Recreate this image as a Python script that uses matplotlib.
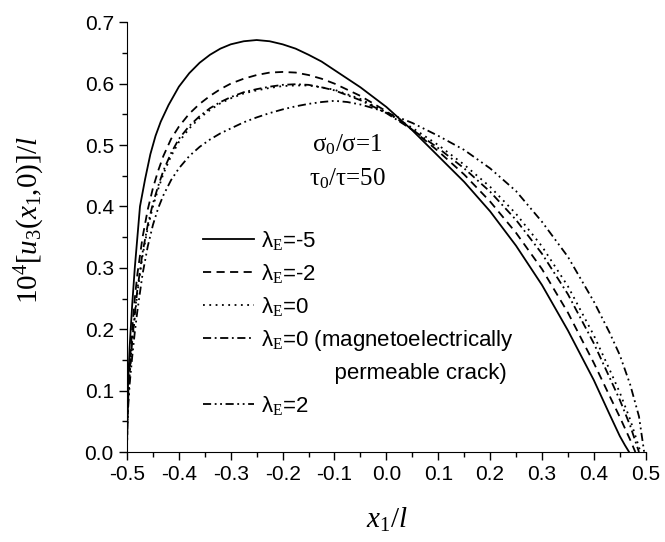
import matplotlib
matplotlib.use("Agg")
import matplotlib.pyplot as plt
from matplotlib.lines import Line2D
from matplotlib.ticker import MultipleLocator, FormatStrFormatter

plt.rcParams['font.family'] = ['Liberation Sans', 'DejaVu Sans']
plt.rcParams['mathtext.fontset'] = 'custom'
plt.rcParams['mathtext.rm'] = 'Liberation Serif'
plt.rcParams['mathtext.it'] = 'Liberation Serif:italic'
plt.rcParams['axes.unicode_minus'] = False

# lambda_E = -5 (solid)
x_m5 = [-0.5, -0.4995, -0.498, -0.495, -0.49, -0.485, -0.475, -0.465, -0.455, -0.445, -0.435, -0.42, -0.4,
        -0.38, -0.36, -0.34, -0.32, -0.3, -0.275, -0.25, -0.225, -0.2, -0.175, -0.15, -0.125, -0.1, -0.05,
        0.0, 0.05, 0.1, 0.15, 0.2, 0.25, 0.3, 0.35, 0.4, 0.43, 0.45, 0.46, 0.468]
u_m5 = [0, 0.055, 0.11, 0.17, 0.24, 0.30, 0.40, 0.445, 0.485, 0.515, 0.538, 0.565, 0.595,
        0.617, 0.634, 0.647, 0.657, 0.664, 0.669, 0.671, 0.669, 0.664, 0.657, 0.647, 0.636, 0.622, 0.594,
        0.562, 0.524, 0.482, 0.44, 0.392, 0.336, 0.272, 0.198, 0.117, 0.062, 0.026, 0.011, 0.0]

# lambda_E = -2 (dashed)
x_m2 = [-0.5, -0.4995, -0.498, -0.495, -0.49, -0.485, -0.48, -0.47, -0.46, -0.45, -0.44, -0.43, -0.415, -0.4,
        -0.38, -0.36, -0.34, -0.32, -0.3, -0.275, -0.25, -0.225, -0.2, -0.175, -0.15, -0.125, -0.1, -0.05,
        0.0, 0.05, 0.1, 0.15, 0.2, 0.25, 0.3, 0.35, 0.4, 0.43, 0.45, 0.47, 0.48]
u_m2 = [0, 0.045, 0.09, 0.14, 0.20, 0.25, 0.29, 0.35, 0.395, 0.43, 0.458, 0.482, 0.51, 0.53,
        0.551, 0.567, 0.58, 0.591, 0.600, 0.608, 0.614, 0.618, 0.619, 0.618, 0.614, 0.608, 0.600, 0.58,
        0.555, 0.525, 0.49, 0.452, 0.408, 0.357, 0.298, 0.227, 0.145, 0.092, 0.057, 0.02, 0.0]

# lambda_E = 0 (dotted)
x_0 = [-0.5, -0.4995, -0.498, -0.495, -0.49, -0.485, -0.48, -0.47, -0.46, -0.45, -0.44, -0.43, -0.415, -0.4,
       -0.38, -0.36, -0.34, -0.32, -0.3, -0.275, -0.25, -0.225, -0.2, -0.175, -0.15, -0.125, -0.1, -0.05,
       0.0, 0.05, 0.1, 0.15, 0.2, 0.25, 0.3, 0.35, 0.4, 0.43, 0.45, 0.47, 0.49]
u_0 = [0, 0.04, 0.08, 0.125, 0.175, 0.22, 0.26, 0.32, 0.365, 0.40, 0.428, 0.453, 0.482, 0.505,
       0.527, 0.544, 0.557, 0.568, 0.576, 0.584, 0.589, 0.593, 0.596, 0.597, 0.597, 0.594, 0.59, 0.575,
       0.553, 0.528, 0.50, 0.468, 0.432, 0.388, 0.335, 0.27, 0.19, 0.135, 0.097, 0.053, 0.0]

# lambda_E = 0, magnetoelectrically permeable crack (dash-dot)
x_0p = [-0.5, -0.4995, -0.498, -0.495, -0.49, -0.485, -0.48, -0.47, -0.46, -0.45, -0.44, -0.43, -0.415, -0.4,
        -0.38, -0.36, -0.34, -0.32, -0.3, -0.275, -0.25, -0.225, -0.2, -0.175, -0.15, -0.125, -0.1, -0.05,
        0.0, 0.05, 0.1, 0.15, 0.2, 0.25, 0.3, 0.35, 0.4, 0.43, 0.45, 0.47, 0.487]
u_0p = [0, 0.04, 0.082, 0.13, 0.18, 0.225, 0.265, 0.325, 0.37, 0.405, 0.433, 0.458, 0.487, 0.51,
        0.531, 0.547, 0.56, 0.57, 0.578, 0.586, 0.591, 0.595, 0.598, 0.599, 0.598, 0.594, 0.589, 0.573,
        0.552, 0.525, 0.495, 0.462, 0.424, 0.378, 0.323, 0.257, 0.177, 0.122, 0.085, 0.043, 0.0]

# lambda_E = 2 (dash-dot-dot)
x_p2 = [-0.5, -0.4995, -0.498, -0.495, -0.49, -0.485, -0.48, -0.47, -0.46, -0.45, -0.44, -0.43, -0.415, -0.4,
        -0.38, -0.36, -0.34, -0.32, -0.3, -0.275, -0.25, -0.225, -0.2, -0.175, -0.15, -0.125, -0.1, -0.075,
        -0.05, -0.025, 0.0, 0.05, 0.1, 0.15, 0.2, 0.25, 0.3, 0.35, 0.4, 0.43, 0.45, 0.47, 0.487, 0.497]
u_p2 = [0, 0.035, 0.07, 0.11, 0.155, 0.195, 0.23, 0.29, 0.335, 0.37, 0.397, 0.418, 0.443, 0.462,
        0.482, 0.497, 0.509, 0.519, 0.527, 0.537, 0.545, 0.552, 0.558, 0.563, 0.567, 0.570, 0.572, 0.570,
        0.566, 0.56, 0.553, 0.536, 0.515, 0.492, 0.462, 0.425, 0.375, 0.318, 0.245, 0.195, 0.158, 0.11, 0.058, 0.0]

labels = ['λ$_\\mathrm{E}$=-5', 'λ$_\\mathrm{E}$=-2', 'λ$_\\mathrm{E}$=0',
          'λ$_\\mathrm{E}$=0 (magnetoelectrically', 'λ$_\\mathrm{E}$=2']

fig = plt.figure(figsize=(6.65, 5.42), dpi=100)
ax = fig.add_axes([0.191, 0.166, 0.780, 0.793])

lw = 1.3
l1, = ax.plot(x_m5, u_m5, color='k', lw=lw, ls='-')
l2, = ax.plot(x_m2, u_m2, color='k', lw=lw, ls=(0, (4.5, 3)))
l3, = ax.plot(x_0, u_0, color='k', lw=lw, ls=(0, (1, 2.5)))
l4, = ax.plot(x_0p, u_0p, color='k', lw=lw, ls=(0, (4.5, 2, 1, 2)))
l5, = ax.plot(x_p2, u_p2, color='k', lw=lw, ls=(0, (4.5, 2, 1, 2, 1, 2)))

blank = Line2D([], [], color='none')
ax.legend([l1, l2, l3, l4, blank, l5],
          labels[:4] + ['            permeable crack)', labels[4]],
          loc='upper left', bbox_to_anchor=(0.146, 0.52), bbox_transform=ax.transAxes,
          frameon=False, fontsize=16, handlelength=2.3, handletextpad=0.3,
          borderpad=0, borderaxespad=0, labelspacing=0.45)

ax.text(-0.075, 0.49, 'σ$_0$/σ=1', family='Liberation Serif', fontsize=18, ha='center')
ax.text(-0.075, 0.435, 'τ$_0$/τ=50', family='Liberation Serif', fontsize=18, ha='center')

ax.set_xlim(-0.5, 0.5)
ax.set_ylim(0, 0.7)
ax.xaxis.set_major_locator(MultipleLocator(0.1))
ax.xaxis.set_minor_locator(MultipleLocator(0.05))
ax.yaxis.set_major_locator(MultipleLocator(0.1))
ax.yaxis.set_minor_locator(MultipleLocator(0.05))
ax.xaxis.set_major_formatter(FormatStrFormatter('%.1f'))
ax.yaxis.set_major_formatter(FormatStrFormatter('%.1f'))
ax.tick_params(which='major', direction='out', length=6, width=1, labelsize=15)
ax.tick_params(which='minor', direction='out', length=3.5, width=1)
ax.spines['top'].set_visible(False)
ax.spines['right'].set_visible(False)

ax.set_xlabel('$x_1/l$', fontsize=21)
ax.set_ylabel('$10^4[u_3(x_1{,}0)]/l$', fontsize=21)
ax.xaxis.set_label_coords(0.5, -0.125)
ax.yaxis.set_label_coords(-0.155, 0.54)

fig.savefig('out.png', dpi=100)
